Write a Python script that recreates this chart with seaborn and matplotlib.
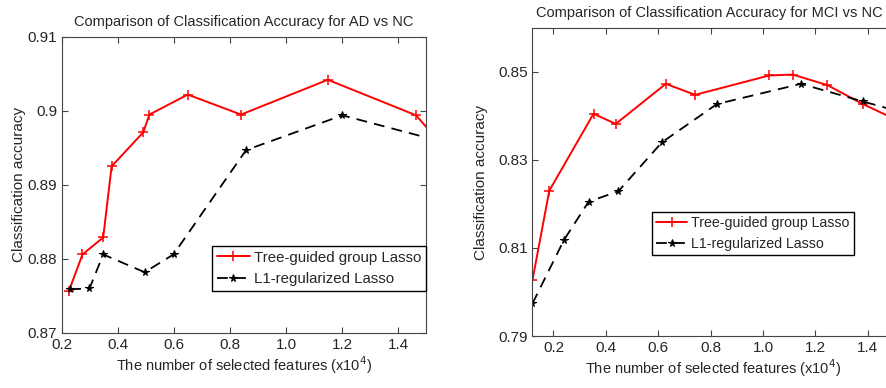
import matplotlib
matplotlib.use("Agg")
import matplotlib.pyplot as plt
import seaborn as sns

# AD vs NC
ad_tree_x = [0.225, 0.273, 0.347, 0.377, 0.490, 0.512, 0.649, 0.839, 1.149, 1.464, 1.60]
ad_tree_y = [0.8757, 0.8806, 0.8829, 0.8925, 0.8971, 0.8995, 0.9022, 0.8995, 0.9042, 0.8994, 0.8935]
ad_l1_x = [0.229, 0.298, 0.347, 0.495, 0.598, 0.857, 1.201, 1.60]
ad_l1_y = [0.8759, 0.8760, 0.8806, 0.8782, 0.8806, 0.8947, 0.8994, 0.8954]

# MCI vs NC
mci_tree_x = [0.12, 0.184, 0.353, 0.438, 0.629, 0.741, 1.024, 1.114, 1.246, 1.381, 1.55]
mci_tree_y = [0.8027, 0.8230, 0.8405, 0.8382, 0.8473, 0.8448, 0.8492, 0.8494, 0.8470, 0.8427, 0.8380]
mci_l1_x = [0.12, 0.241, 0.334, 0.448, 0.614, 0.824, 1.145, 1.381, 1.55]
mci_l1_y = [0.7974, 0.8119, 0.8205, 0.8229, 0.8340, 0.8427, 0.8473, 0.8433, 0.8405]

lab_tree = "Tree-guided group Lasso"
lab_l1 = "L1-regularized Lasso"

sns.set_style("ticks")
plt.rcParams['font.family'] = ['Liberation Sans', 'DejaVu Sans']
plt.rcParams['xtick.direction'] = 'in'
plt.rcParams['ytick.direction'] = 'in'

fig = plt.figure(figsize=(8.86, 3.88), dpi=100)
ax1 = fig.add_axes([0.070, 0.142, 0.411, 0.763])
ax2 = fig.add_axes([0.601, 0.134, 0.408, 0.794])


def draw(ax, tx, ty, lx, ly, ypad):
    sns.lineplot(x=tx, y=ty, ax=ax, color='red', lw=1.4, marker='+', ms=6.5,
                 mew=1.1, mec='red', mfc='red', sort=False, estimator=None,
                 label=lab_tree)
    sns.lineplot(x=lx, y=ly, ax=ax, color='black', lw=1.3, marker='*', ms=5.5,
                 mew=0.8, mec='black', mfc='black', sort=False, estimator=None,
                 label=lab_l1, linestyle=(0, (6, 4)))
    for s in ax.spines.values():
        s.set_linewidth(0.8)
        s.set_color('#444444')
    ax.tick_params(top=True, right=True, labelsize=11, length=4, width=0.8,
                   color='#444444')
    ax.set_xlabel("The number of selected features (x10$^4$)", fontsize=10.5, labelpad=2)
    ax.set_ylabel("Classification accuracy", fontsize=11, labelpad=ypad)


draw(ax1, ad_tree_x, ad_tree_y, ad_l1_x, ad_l1_y, 1)
ax1.set_xlim(0.2, 1.5)
ax1.set_ylim(0.87, 0.91)
ax1.set_xticks([0.2, 0.4, 0.6, 0.8, 1.0, 1.2, 1.4])
ax1.set_xticklabels(["0.2", "0.4", "0.6", "0.8", "1.0", "1.2", "1.4"])
ax1.set_yticks([0.87, 0.88, 0.89, 0.9, 0.91])
ax1.set_yticklabels(["0.87", "0.88", "0.89", "0.9", "0.91"])
ax1.set_title("Comparison of Classification Accuracy for AD vs NC", fontsize=10.5, pad=8)
ax1.legend(loc='lower right', bbox_to_anchor=(1.0, 0.143), borderaxespad=0,
           fancybox=False, edgecolor='black', framealpha=1, fontsize=10.8,
           handlelength=2.2, handletextpad=0.3, borderpad=0.3)

draw(ax2, mci_tree_x, mci_tree_y, mci_l1_x, mci_l1_y, 7)
ax2.set_xlim(0.12, 1.5)
ax2.set_ylim(0.79, 0.86)
ax2.set_xticks([0.2, 0.4, 0.6, 0.8, 1.0, 1.2, 1.4])
ax2.set_xticklabels(["0.2", "0.4", "0.6", "0.8", "1.0", "1.2", "1.4"])
ax2.set_yticks([0.79, 0.81, 0.83, 0.85])
ax2.set_yticklabels(["0.79", "0.81", "0.83", "0.85"])
ax2.set_title("Comparison of Classification Accuracy for MCI vs NC", fontsize=10.5, pad=8,
              x=0.49)
ax2.legend(loc='upper left', bbox_to_anchor=(0.33, 0.403), borderaxespad=0,
           fancybox=False, edgecolor='black', framealpha=1, fontsize=10.2,
           handlelength=2.2, handletextpad=0.3, borderpad=0.3)

fig.savefig("out.png", dpi=100)
